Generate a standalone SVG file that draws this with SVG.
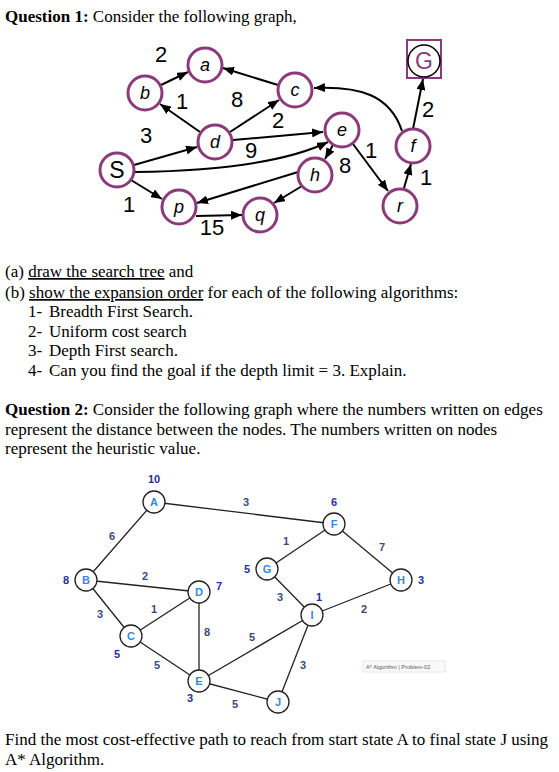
<svg xmlns="http://www.w3.org/2000/svg" width="559" height="772" viewBox="0 0 559 772">
<style>
.t{font-family:"Liberation Serif","Times New Roman",serif;font-size:17px;fill:#000}
.b{font-weight:bold}
.n1{fill:#fff;stroke:#8c3b7a;stroke-width:3}
.l1{font-family:"Liberation Sans",Arial,sans-serif;font-size:18px;font-style:italic;fill:#000;text-anchor:middle}
.w1{font-family:"Liberation Sans",Arial,sans-serif;font-size:22px;fill:#000;text-anchor:middle}
.e1{fill:none;stroke:#000;stroke-width:2;marker-end:url(#ah)}
.n2{fill:#fff;stroke:#222;stroke-width:1.3}
.l2{font-family:"Liberation Sans",Arial,sans-serif;font-size:11px;font-weight:bold;fill:#2f8be0;text-anchor:middle}
.h2{font-family:"Liberation Sans",Arial,sans-serif;font-size:11px;font-weight:bold;fill:#2b2d9a;text-anchor:middle}
.w2{font-family:"Liberation Sans",Arial,sans-serif;font-size:11px;font-weight:bold;fill:#3c4a7a;text-anchor:middle}
.e2{stroke:#222;stroke-width:1.3;fill:none}
</style>
<defs>
<marker id="ah" markerUnits="userSpaceOnUse" markerWidth="11" markerHeight="9" refX="11" refY="4.5" orient="auto"><path d="M0,0 L11,4.5 L0,9 z" fill="#000"/></marker>
</defs>
<rect width="559" height="772" fill="#fff"/>

<!-- Question 1 text -->
<text class="t" x="5" y="22"><tspan class="b">Question 1:</tspan> Consider the following graph,</text>

<!-- Top graph connectors -->
<g id="edges1">
<line class="e1" x1="161" y1="85" x2="188" y2="72"/>
<line class="e1" x1="278" y1="85" x2="223" y2="68"/>
<line class="e1" x1="200" y1="132" x2="160" y2="104"/>
<line class="e1" x1="230" y1="132" x2="279" y2="100"/>
<line class="e1" x1="134" y1="165" x2="197" y2="147"/>
<line class="e1" x1="233" y1="140" x2="323" y2="132"/>
<path class="e1" d="M135,172 Q270,170 328,142"/>
<line class="e1" x1="333" y1="145" x2="325" y2="159"/>
<line class="e1" x1="353" y1="144" x2="388" y2="191"/>
<line class="e1" x1="404" y1="188" x2="411" y2="164"/>
<line class="e1" x1="413" y1="129" x2="423" y2="79"/>
<path class="e1" d="M402,131 C390,95 360,86 314,88"/>
<line class="e1" x1="298" y1="172" x2="197" y2="203"/>
<line class="e1" x1="302" y1="186" x2="274" y2="203"/>
<line class="e1" x1="196" y1="216" x2="242" y2="215"/>
<line class="e1" x1="131" y1="180" x2="162" y2="199"/>
</g>
<g id="elabels1">
<text class="w1" x="161" y="62">2</text>
<text class="w1" x="182" y="109">1</text>
<text class="w1" x="237" y="107">8</text>
<text class="w1" x="146" y="143">3</text>
<text class="w1" x="278" y="128">2</text>
<text class="w1" x="251" y="158">9</text>
<text class="w1" x="345" y="173">8</text>
<text class="w1" x="371" y="158">1</text>
<text class="w1" x="426" y="185">1</text>
<text class="w1" x="428" y="117">2</text>
<text class="w1" x="129" y="212">1</text>
<text class="w1" x="212" y="235">15</text>
</g>

<g id="node-a"><circle class="n1" cx="205" cy="65" r="17"/><text class="l1" x="205" y="71">a</text></g>
<g id="node-b"><circle class="n1" cx="145" cy="93" r="17"/><text class="l1" x="145" y="99">b</text></g>
<g id="node-c"><circle class="n1" cx="295" cy="90" r="17"/><text class="l1" x="295" y="96">c</text></g>
<g id="node-d"><circle class="n1" cx="215" cy="142" r="17"/><text class="l1" x="215" y="148">d</text></g>
<g id="node-e"><circle class="n1" cx="342" cy="130" r="17"/><text class="l1" x="342" y="136">e</text></g>
<g id="node-h"><circle class="n1" cx="315" cy="175" r="17"/><text class="l1" x="315" y="181">h</text></g>
<g id="node-S"><circle class="n1" cx="117" cy="170" r="17"/><text class="l1" style="font-style:normal;font-size:23px" x="117" y="178">S</text></g>
<g id="node-p"><circle class="n1" cx="179" cy="207" r="17"/><text class="l1" x="179" y="213">p</text></g>
<g id="node-q"><circle class="n1" cx="260" cy="215" r="17"/><text class="l1" x="260" y="221">q</text></g>
<g id="node-f"><circle class="n1" cx="413" cy="146" r="17"/><text class="l1" x="413" y="152">f</text></g>
<g id="node-r"><circle class="n1" cx="400" cy="206" r="17"/><text class="l1" x="400" y="212">r</text></g>
<g id="node-G"><rect x="407" y="40" width="34" height="38" fill="#fff" stroke="#8c3b7a" stroke-width="2"/><circle cx="424" cy="61" r="16" fill="none" stroke="#000" stroke-width="1.5"/><text class="l1" style="font-style:normal;font-size:23px;fill:#8c3b7a" x="424" y="69">G</text></g>

<!-- Question text -->
<text class="t" x="5" y="277">(a) <tspan text-decoration="underline">draw the search tree</tspan> and</text>
<text class="t" x="5" y="298">(b) <tspan text-decoration="underline">show the expansion order</tspan> for each of the following algorithms:</text>
<text class="t" y="317"><tspan x="28">1-</tspan><tspan x="49">Breadth First Search.</tspan></text>
<text class="t" y="337"><tspan x="28">2-</tspan><tspan x="49">Uniform cost search</tspan></text>
<text class="t" y="356"><tspan x="28">3-</tspan><tspan x="49">Depth First search.</tspan></text>
<text class="t" y="376"><tspan x="28">4-</tspan><tspan x="49">Can you find the goal if the depth limit = 3. Explain.</tspan></text>

<text class="t" x="5" y="415"><tspan class="b">Question 2:</tspan> Consider the following graph where the numbers written on edges</text>
<text class="t" x="5" y="435">represent the distance between the nodes. The numbers written on nodes</text>
<text class="t" x="5" y="454">represent the heuristic value.</text>

<!-- Second graph connectors -->
<g id="edges2">
<line class="e2" x1="154" y1="502" x2="334" y2="524"/>
<line class="e2" x1="154" y1="502" x2="86" y2="580"/>
<line class="e2" x1="86" y1="580" x2="199" y2="592"/>
<line class="e2" x1="86" y1="580" x2="131" y2="636"/>
<line class="e2" x1="131" y1="636" x2="199" y2="592"/>
<line class="e2" x1="131" y1="636" x2="199" y2="681"/>
<line class="e2" x1="199" y1="592" x2="199" y2="681"/>
<line class="e2" x1="199" y1="681" x2="312" y2="615"/>
<line class="e2" x1="199" y1="681" x2="278" y2="702"/>
<line class="e2" x1="312" y1="615" x2="278" y2="702"/>
<line class="e2" x1="312" y1="615" x2="401" y2="580"/>
<line class="e2" x1="267" y1="569" x2="312" y2="615"/>
<line class="e2" x1="267" y1="569" x2="334" y2="524"/>
<line class="e2" x1="334" y1="524" x2="401" y2="580"/>
</g>
<g id="elabels2">
<text class="w2" x="246" y="506">3</text>
<text class="w2" x="112" y="540">6</text>
<text class="w2" x="145" y="580">2</text>
<text class="w2" x="100" y="618">3</text>
<text class="w2" x="154" y="613">1</text>
<text class="w2" x="207" y="636">8</text>
<text class="w2" x="157" y="669">5</text>
<text class="w2" x="252" y="641">5</text>
<text class="w2" x="235" y="708">5</text>
<text class="w2" x="303" y="669">3</text>
<text class="w2" x="364" y="613">2</text>
<text class="w2" x="280" y="601">3</text>
<text class="w2" x="286" y="545">1</text>
<text class="w2" x="382" y="551">7</text>
</g>

<g id="node-A"><circle class="n2" cx="154" cy="502" r="11"/><text class="l2" x="154" y="506">A</text><text class="h2" x="154" y="483">10</text></g>
<g id="node-B"><circle class="n2" cx="86" cy="580" r="11"/><text class="l2" x="86" y="584">B</text><text class="h2" x="66" y="584">8</text></g>
<g id="node-D"><circle class="n2" cx="199" cy="592" r="11"/><text class="l2" x="199" y="596">D</text><text class="h2" x="219" y="590">7</text></g>
<g id="node-F"><circle class="n2" cx="334" cy="524" r="11"/><text class="l2" x="334" y="528">F</text><text class="h2" x="334" y="506">6</text></g>
<g id="node-G2"><circle class="n2" cx="267" cy="569" r="11"/><text class="l2" x="267" y="573">G</text><text class="h2" x="247" y="573">5</text></g>
<g id="node-H"><circle class="n2" cx="401" cy="580" r="11"/><text class="l2" x="401" y="584">H</text><text class="h2" x="421" y="584">3</text></g>
<g id="node-C"><circle class="n2" cx="131" cy="636" r="11"/><text class="l2" x="131" y="640">C</text><text class="h2" x="117" y="658">5</text></g>
<g id="node-E"><circle class="n2" cx="199" cy="681" r="11"/><text class="l2" x="199" y="685">E</text><text class="h2" x="190" y="702">3</text></g>
<g id="node-I"><circle class="n2" cx="312" cy="615" r="11"/><text class="l2" x="312" y="619">I</text><text class="h2" x="319" y="601">1</text></g>
<g id="node-J"><circle class="n2" cx="278" cy="702" r="11"/><text class="l2" x="278" y="706">J</text></g>

<g id="watermark"><rect x="363" y="661" width="82" height="11" fill="#fafafa" stroke="#e2e2e2" stroke-width="0.8"/><text x="366" y="669" font-family="'Liberation Sans',Arial,sans-serif" font-size="5.6" fill="#555">A* Algorithm | Problem-02</text></g>

<text class="t" x="5" y="745">Find the most cost-effective path to reach from start state A to final state J using</text>
<text class="t" x="5" y="765">A* Algorithm.</text>
</svg>
